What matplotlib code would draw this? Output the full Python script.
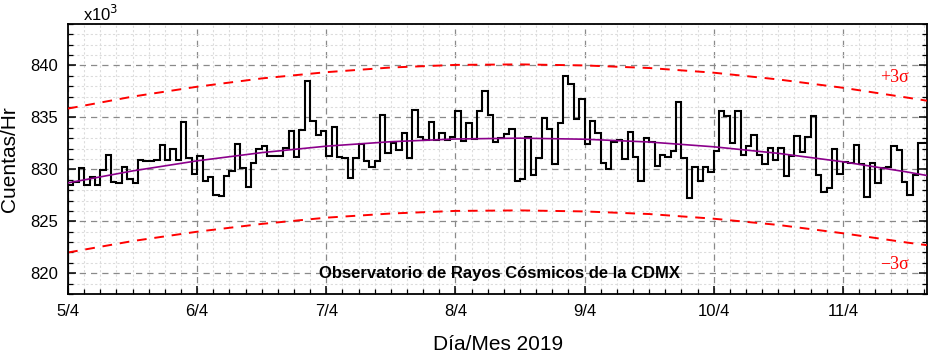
import matplotlib
matplotlib.use("Agg")
import matplotlib.pyplot as plt
import numpy as np
from matplotlib.ticker import MultipleLocator, FixedLocator

plt.rcParams['font.family'] = ['Liberation Sans', 'DejaVu Sans']

# hourly counts (x10^3), starting 5/4 00:00
counts = [
    828.45, 828.8, 830.1, 828.5, 829.3, 828.5, 829.9, 831.4, 828.8, 828.7,
    830.2, 829.1, 828.7, 830.9, 830.8, 830.8, 830.9, 832.3, 830.9, 832.0,
    830.9, 834.6, 831.1, 829.6, 831.3, 828.9, 829.3, 827.55, 827.4, 829.4,
    829.8, 832.4, 830.1, 828.3, 830.6, 832.0, 832.2, 831.3, 831.3, 831.3,
    832.1, 833.7, 831.2, 833.8, 838.5, 834.7, 833.3, 833.7, 831.3, 834.1,
    831.2, 831.1, 829.2, 831.1, 832.4, 830.8, 830.2, 830.8, 835.2, 831.6,
    832.5, 831.9, 833.5, 831.1, 835.7, 833.1, 832.8, 834.6, 832.8, 833.5,
    832.8, 833.1, 835.6, 832.7, 834.5, 832.9, 835.6, 837.5, 835.2, 832.6,
    833.0, 833.4, 833.9, 828.9, 829.1, 833.1, 829.5, 831.1, 834.9, 833.9,
    830.5, 834.5, 839.0, 838.2, 834.8, 836.8, 832.4, 834.7, 833.5, 830.6,
    830.0, 832.6, 832.8, 831.0, 833.6, 831.2, 828.9, 833.0, 832.6, 830.3,
    831.4, 831.2, 831.8, 836.5, 831.1, 827.2, 830.2, 828.9, 830.2, 829.7,
    831.8, 835.6, 835.1, 832.5, 835.6, 831.4, 832.2, 833.3, 831.4, 830.5,
    832.1, 830.9, 832.1, 829.4, 831.3, 833.2, 831.7, 833.1, 835.1, 829.5,
    827.8, 828.2, 832.0, 829.6, 830.7, 830.6, 832.3, 830.5, 827.3, 830.6,
    828.7, 830.1, 830.2, 832.2, 831.9, 828.8, 827.5, 829.5, 832.5, 832.5,
]

# fitted trend and +-3 sigma band, read every 12 h
fit_hours = [0, 12, 24, 36, 48, 60, 72, 84, 96, 108, 120, 132, 144, 156, 159.7]
fit_vals = [828.70, 829.85, 830.82, 831.61, 832.23, 832.66, 832.92, 833.00,
            832.90, 832.63, 832.17, 831.54, 830.73, 829.74, 829.40]
upper_vals = [835.85, 837.0, 837.95, 838.75, 839.35, 839.8, 840.05, 840.1,
              840.0, 839.75, 839.3, 838.65, 837.85, 836.9, 836.6]
lower_vals = [822.0, 823.1, 824.0, 824.75, 825.35, 825.75, 826.0, 826.05,
              825.95, 825.7, 825.25, 824.65, 823.85, 822.95, 822.7]

day_ticks = [0, 24, 48, 72, 96, 120, 144]
day_labels = ['5/4', '6/4', '7/4', '8/4', '9/4', '10/4', '11/4']

fig = plt.figure(figsize=(9.32, 3.56), dpi=100)
ax = fig.add_axes([0.073, 0.174, 0.922, 0.759])

edges = np.arange(len(counts) + 1)
ax.stairs(counts, edges, color='black', linewidth=1.5, zorder=4)
ax.plot(fit_hours, fit_vals, color='#8b008b', linewidth=1.2, zorder=5)
ax.plot(fit_hours, upper_vals, color='red', linewidth=1.4, dashes=(5, 4), zorder=3)
ax.plot(fit_hours, lower_vals, color='red', linewidth=1.4, dashes=(5, 4), zorder=3)

ax.set_xlim(0, 159.7)
ax.set_ylim(818, 844)

ax.xaxis.set_major_locator(FixedLocator(day_ticks))
ax.set_xticklabels(day_labels)
ax.xaxis.set_minor_locator(MultipleLocator(3))
ax.yaxis.set_major_locator(MultipleLocator(5))
ax.yaxis.set_minor_locator(MultipleLocator(1))
ax.set_yticks([820, 825, 830, 835, 840])

ax.grid(which='major', color='#8a8a8a', linestyle=(0, (5, 4)), linewidth=0.9)
ax.grid(which='minor', color='#dcdcdc', linestyle=(0, (2, 2)), linewidth=0.8)
ax.set_axisbelow(True)

ax.tick_params(which='both', direction='in', right=True, top=False, labelsize=12)
ax.tick_params(which='major', length=6, width=1.1, pad=7)
ax.tick_params(which='minor', length=3.5, width=0.9)
for s in ax.spines.values():
    s.set_linewidth(1.3)

ax.set_xlabel('Día/Mes 2019', fontsize=15, labelpad=12)
ax.set_ylabel('Cuentas/Hr', fontsize=15, labelpad=8)

fig.text(0.089, 0.962, r'x10$^3$', fontsize=12, ha='left', va='center')
ax.text(80.2, 820.0, 'Observatorio de Rayos Cósmicos de la CDMX', fontsize=12,
        fontweight='bold', ha='center', va='center', zorder=6)
ax.text(153.6, 838.8, '+3σ', color='red', fontsize=13,
        family=['Liberation Serif', 'DejaVu Serif'], ha='center', va='center')
ax.text(153.6, 820.8, '\u22123σ', color='red', fontsize=13,
        family=['Liberation Serif', 'DejaVu Serif'], ha='center', va='center')

fig.savefig('out.png', dpi=100)
